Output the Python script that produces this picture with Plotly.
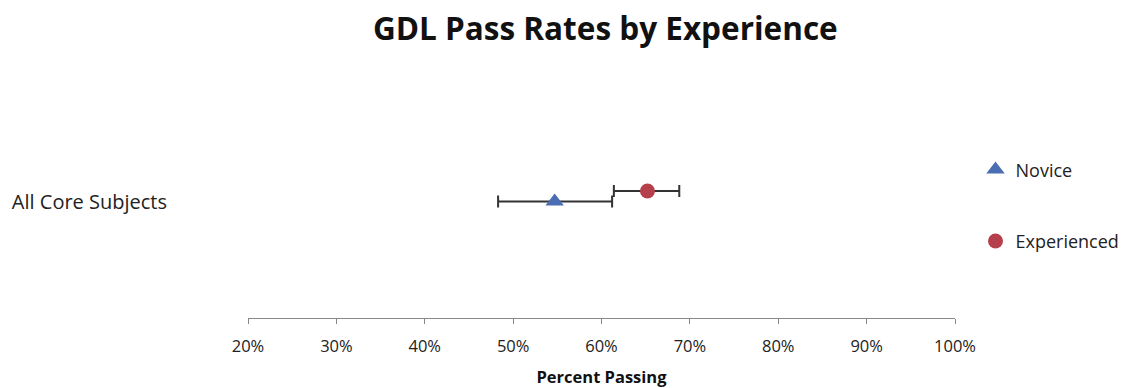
import plotly.graph_objects as go

# Pass-rate estimates with confidence intervals (percent passing)
categories = ["All Core Subjects"]
series_names = ["Novice", "Experienced"]
pass_rate = [54.7, 65.2]
ci_low = [48.3, 61.4]
ci_high = [61.2, 68.8]
row_pos = [1.0, 1.09]
x_ticks = [20, 30, 40, 50, 60, 70, 80, 90, 100]

colors = ["#4A6DB3", "#B5404B"]
symbols = ["triangle-up", "circle"]
sizes = [16, 15]

FONT = "'Open Sans', Lato, sans-serif"

fig = go.Figure()
for i, name in enumerate(series_names):
    fig.add_trace(go.Scatter(
        x=[pass_rate[i]],
        y=[row_pos[i]],
        mode="markers",
        name=name,
        legendgroup=name,
        marker=dict(symbol=symbols[i], size=sizes[i], color=colors[i]),
        error_x=dict(
            type="data",
            symmetric=False,
            array=[ci_high[i] - pass_rate[i]],
            arrayminus=[pass_rate[i] - ci_low[i]],
            color="#333333",
            thickness=2,
            width=6,
        ),
    ))

fig.update_layout(
    width=1123,
    height=388,
    paper_bgcolor="white",
    plot_bgcolor="white",
    margin=dict(l=248, r=168, t=85, b=70, autoexpand=False),
    font=dict(family=FONT, size=16, color="#222222"),
    title=dict(
        text="<b>GDL Pass Rates by Experience</b>",
        x=0.539, xanchor="center", y=0.925, yanchor="middle",
        font=dict(family=FONT, size=31.5, color="#111111"),
    ),
    showlegend=True,
    legend=dict(
        x=1.029, xanchor="left", y=0.715, yanchor="top",
        xref="paper", yref="paper",
        tracegroupgap=45,
        itemwidth=30,
        font=dict(family=FONT, size=18, color="#222222"),
        bgcolor="rgba(0,0,0,0)",
    ),
    xaxis=dict(
        range=[20, 100],
        tickvals=x_ticks,
        ticktext=[f"{v}%" for v in x_ticks],
        ticks="outside", ticklen=5, tickcolor="#888888",
        showline=True, linecolor="#888888", linewidth=1,
        showgrid=False, zeroline=False,
        automargin=False,
        ticklabelstandoff=8,
        tickfont=dict(family=FONT, size=16.5, color="#222222"),
        title=dict(text="<b>Percent Passing</b>", standoff=15,
                   font=dict(family=FONT, size=16.5, color="#111111")),
    ),
    yaxis=dict(
        range=[0, 2],
        tickvals=[1.0],
        ticktext=categories,
        ticks="", showline=False, showgrid=False, zeroline=False,
        automargin=False,
        ticklabelstandoff=80,
        tickfont=dict(family=FONT, size=20, color="#222222"),
    ),
)

fig.write_html("out.html")
